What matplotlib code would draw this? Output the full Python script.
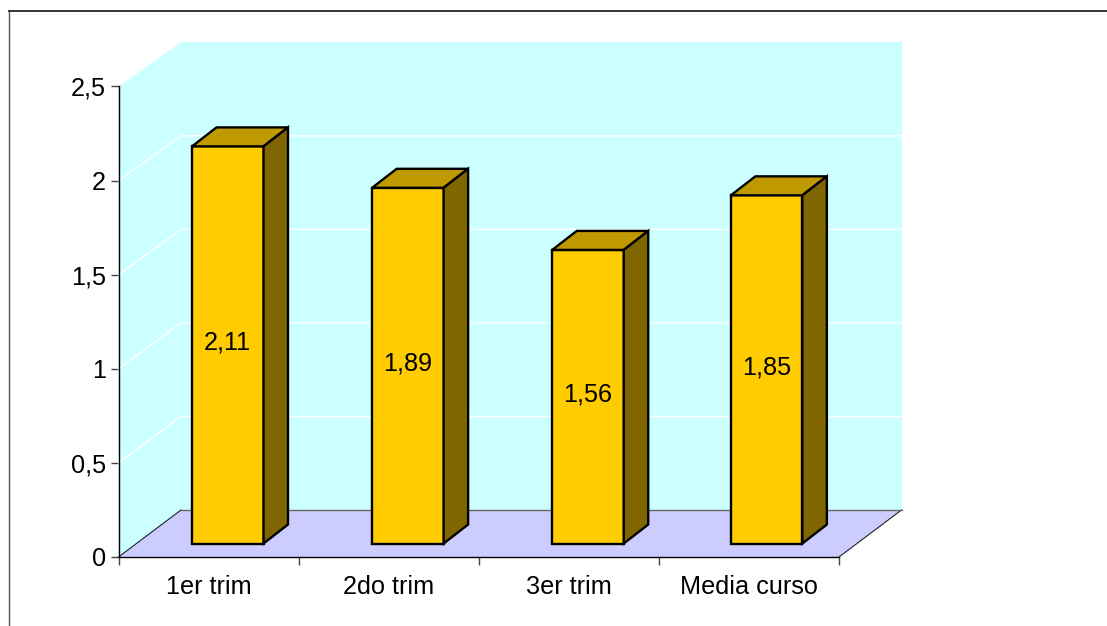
import matplotlib
matplotlib.use("Agg")
import matplotlib.pyplot as plt
from matplotlib.lines import Line2D
from matplotlib.patches import Polygon

categories = ['1er trim', '2do trim', '3er trim', 'Media curso']
values = [2.11, 1.89, 1.56, 1.85]
value_labels = ['2,11', '1,89', '1,56', '1,85']
y_ticks = [0, 0.5, 1, 1.5, 2, 2.5]
y_labels = ['0', '0,5', '1', '1,5', '2', '2,5']

W, H = 1107, 626
X0, X1 = 118.5, 839.0
Y0, Y1 = 557.0, 86.5
FONT = 18.2

plt.rcParams['font.family'] = ['Liberation Sans', 'DejaVu Sans']

fig = plt.figure(figsize=(W / 100, H / 100), dpi=100)
ax = fig.add_axes([X0 / W, 1 - Y0 / H, (X1 - X0) / W, (Y0 - Y1) / H])
ax.set_xlim(0, len(categories))
ax.set_ylim(0, 2.5)

px_x = 4 / (X1 - X0)
px_y = 2.5 / (Y0 - Y1)

# depth of the fake 3d box, in data units
depth_x = 62.5 * px_x
depth_y = 47 * px_y
back_scale = 467.7 / 470.5  # back wall comes out slightly shorter than the axis
n = len(categories)
top = y_ticks[-1]


def back(t):
    return depth_y + t * back_scale


# walls and floor
ax.add_patch(Polygon([(depth_x, back(0)), (n + depth_x, back(0)), (n + depth_x, back(top)),
                      (depth_x, back(top))], fc='#CCFFFF', ec='none', clip_on=False, zorder=1))
ax.add_patch(Polygon([(0, 0), (depth_x, back(0)), (depth_x, back(top)), (0, top)],
                     fc='#CCFFFF', ec='none', clip_on=False, zorder=1))
for t in y_ticks[1:-1]:
    ax.plot([0, depth_x, n + depth_x], [t, back(t), back(t)], color='white', lw=1,
            clip_on=False, zorder=2)
ax.add_patch(Polygon([(0, 0), (n, 0), (n + depth_x, depth_y), (depth_x, depth_y)],
                     fc='#CCCCFF', ec='none', clip_on=False, zorder=3))
ax.plot([0, depth_x], [0, depth_y], color='#222222', lw=0.8, clip_on=False, zorder=4)
ax.plot([n, n + depth_x], [0, depth_y], color='#222222', lw=0.8, clip_on=False, zorder=4)
ax.plot([depth_x, n + depth_x], [depth_y, depth_y], color='#666666', lw=1, clip_on=False, zorder=4)

# bars
bar_w = 71.5 * px_x
off_x = 73.5 * px_x
off_y = 13.5 * px_y
bar_dx = 24.5 * px_x
bar_dy = 19 * px_y
edge = dict(ec='black', lw=1.7, joinstyle='miter', clip_on=False, zorder=5)
for i, v in enumerate(values):
    left = i + off_x
    if i == n - 1:
        left -= 1.5 * px_x  # last bar sits a bit left of the regular spacing
    right = left + bar_w
    low = off_y
    high = off_y + v
    ax.bar(left, v, width=bar_w, bottom=low, align='edge', fc='#FFCC00', **edge)
    ax.add_patch(Polygon([(left, high), (right, high), (right + bar_dx, high + bar_dy),
                          (left + bar_dx, high + bar_dy)], fc='#BF9900', **edge))
    ax.add_patch(Polygon([(right, low), (right + bar_dx, low + bar_dy), (right + bar_dx, high + bar_dy),
                          (right, high)], fc='#806600', **edge))
    ax.text((left + right) / 2, low + v / 2 + 2 * px_y, value_labels[i], ha='center', va='center',
            fontsize=FONT, color='black', zorder=6)

# axes
for s in ['top', 'right']:
    ax.spines[s].set_visible(False)
for s in ['left', 'bottom']:
    ax.spines[s].set_linewidth(1)
    ax.spines[s].set_zorder(7)
ax.set_yticks(y_ticks, y_labels, fontsize=FONT)
ax.set_xticks(range(n + 1), [''] * (n + 1))
ax.set_xticks([i + 0.5 for i in range(n)], categories, minor=True, fontsize=FONT)
ax.tick_params(axis='both', which='major', length=6, width=1, color='#444444', pad=3)
ax.tick_params(axis='x', which='minor', length=0, pad=13)
ax.patch.set_visible(False)

# outer chart border, runs off the picture on the right and bottom
fig.add_artist(Line2D([9 / W, 9 / W], [0, 1 - 11 / H], color='#555555', lw=1))
fig.add_artist(Line2D([9 / W, 1], [1 - 11 / H, 1 - 11 / H], color='#333333', lw=1.4))

fig.savefig('out.png', dpi=100)
